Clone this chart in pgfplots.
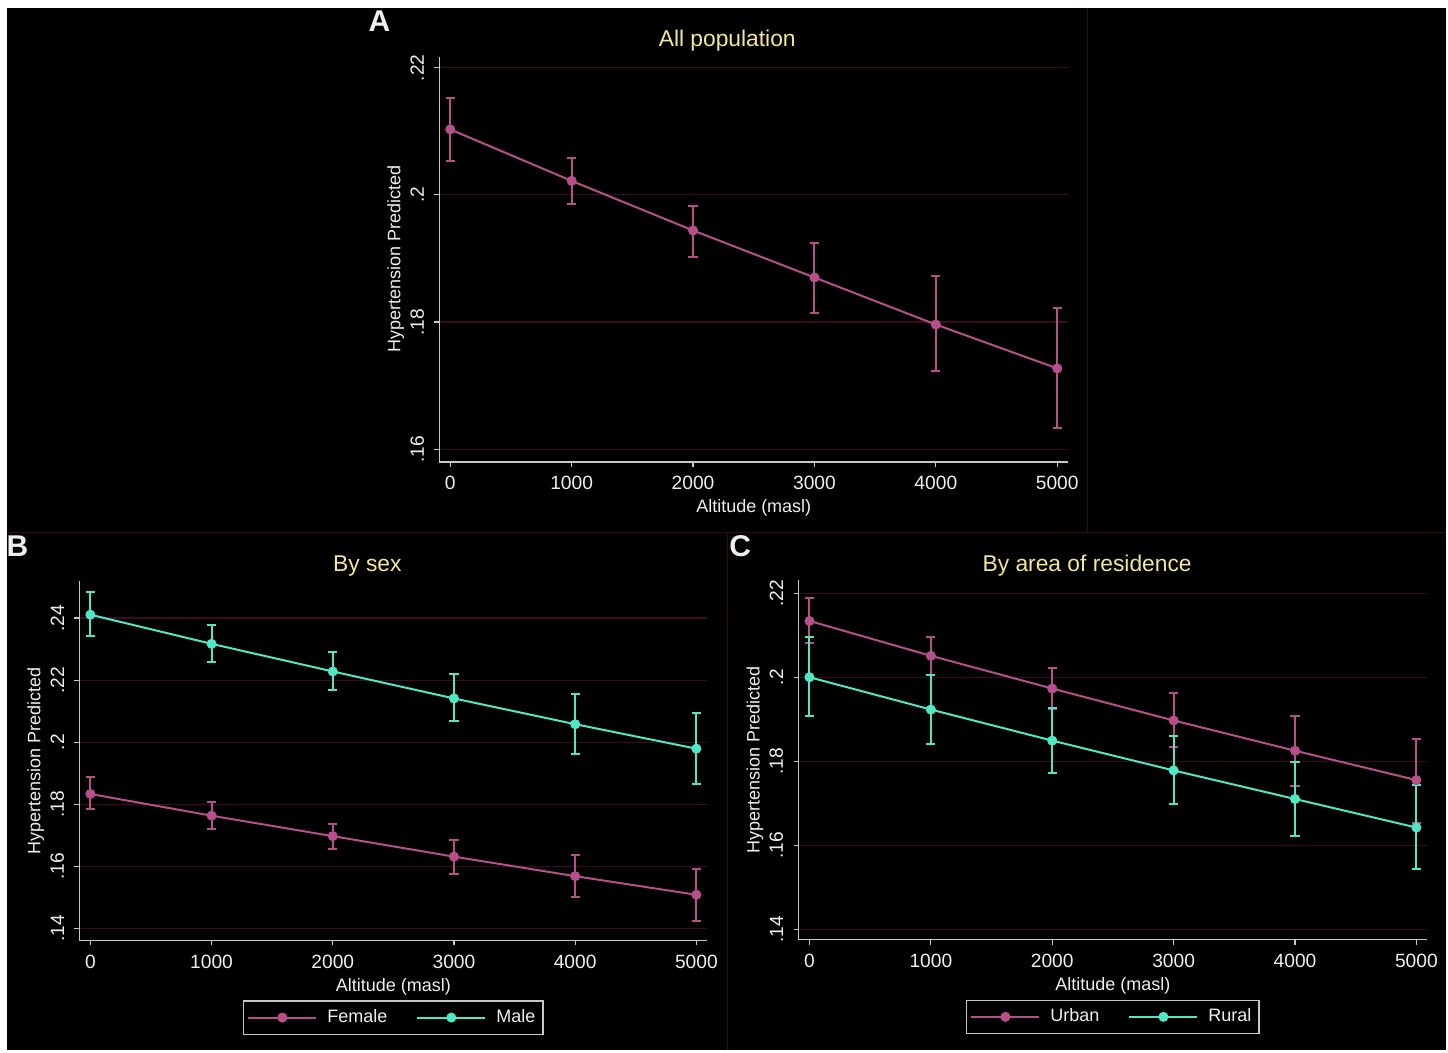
\documentclass[border=0pt]{standalone}
\usepackage{pgfplots}
\usepackage{pgfplotstable}
\pgfplotsset{compat=1.18}
\usepackage{fontspec}
\setmainfont{Liberation Sans}
\definecolor{pinkc}{RGB}{183,79,139}
\definecolor{mintc}{RGB}{80,232,196}
\definecolor{gridc}{RGB}{62,10,32}
\definecolor{sepc}{RGB}{55,8,28}
\definecolor{axc}{RGB}{200,200,200}
\definecolor{txtc}{RGB}{238,238,238}
\definecolor{ttlc}{RGB}{242,232,150}

\pgfplotstableread{
x y ep em
0 0.2103 0.0049 0.0049
1000 0.2022 0.0036 0.0037
2000 0.1944 0.0039 0.0041
3000 0.1870 0.0055 0.0056
4000 0.1796 0.0076 0.0073
5000 0.1727 0.0095 0.0093
}\tAll
\pgfplotstableread{
x y ep em
0 0.1833 0.0055 0.0049
1000 0.1763 0.0045 0.0043
2000 0.1697 0.0040 0.0040
3000 0.1631 0.0055 0.0055
4000 0.1568 0.0068 0.0068
5000 0.1508 0.0084 0.0085
}\tFemale
\pgfplotstableread{
x y ep em
0 0.2411 0.0072 0.0068
1000 0.2317 0.0061 0.0057
2000 0.2228 0.0062 0.0060
3000 0.2141 0.0078 0.0074
4000 0.2058 0.0096 0.0095
5000 0.1979 0.0115 0.0114
}\tMale
\pgfplotstableread{
x y ep em
0 0.2134 0.0055 0.0053
1000 0.2051 0.0045 0.0045
2000 0.1973 0.0048 0.0048
3000 0.1897 0.0065 0.0064
4000 0.1825 0.0082 0.0083
5000 0.1755 0.0099 0.0101
}\tUrban
\pgfplotstableread{
x y ep em
0 0.2000 0.0096 0.0093
1000 0.1923 0.0083 0.0081
2000 0.1849 0.0077 0.0077
3000 0.1778 0.0081 0.0079
4000 0.1710 0.0088 0.0087
5000 0.1642 0.0102 0.0098
}\tRural

\pgfplotsset{
  stata/.style={
    scale only axis,
    axis lines*=left,
    axis line style={axc, line width=0.7pt},
    tick align=outside,
    major tick length=2.5pt,
    tick style={axc, line width=0.6pt},
    ymajorgrids,
    major grid style={gridc, line width=0.6pt},
    xtick={0,1000,2000,3000,4000,5000},
    xmin=-90, xmax=5090,
    ticklabel style={font=\fontsize{9.6}{11}\selectfont, text=txtc},
    xticklabel style={anchor=north, inner sep=0pt},
    xticklabel shift=4.5pt,
    yticklabel style={rotate=90, anchor=south, inner sep=0pt},
    yticklabel shift=5pt,
    /pgf/number format/1000 sep={},
    /pgf/number format/assume math mode=true,
    xlabel={Altitude (masl)},
    ylabel={Hypertension Predicted},
    every axis x label/.style={at={(axis description cs:0.5,0)}, anchor=base, yshift=-25.5pt,
      font=\fontsize{9.0}{11}\selectfont, text=txtc},
    every axis y label/.style={at={(axis description cs:0,0.5)}, xshift=-19.5pt, rotate=90, anchor=base,
      font=\fontsize{9.0}{11}\selectfont, text=txtc},
    legend columns=2,
    legend image code/.code={\draw[mark repeat=2,mark phase=2,##1] plot coordinates {(0pt,0pt) (17pt,0pt) (34pt,0pt)};},
    legend style={at={(axis description cs:0.5,0)}, yshift=-30pt, anchor=north,
      draw=axc, line width=0.6pt, fill=black, text=txtc, font=\fontsize{9.0}{11}\selectfont,
      inner xsep=1.8pt, inner ysep=2.3pt,
      /tikz/every odd column/.append style={column sep=3pt},
      /tikz/every even column/.append style={column sep=12.5pt}},
  },
  ser/.style={draw=#1, line width=1pt, mark=*, mark size=2.3pt,
    mark options={fill=#1, draw=#1, line width=0.4pt},
    /pgfplots/error bars/y dir=both, /pgfplots/error bars/y explicit,
    /pgfplots/error bars/error bar style={draw=#1, line width=1pt},
    /pgfplots/error bars/error mark options={rotate=90, mark size=2.3pt, draw=#1, line width=1pt}},
}

\begin{document}
\begin{tikzpicture}[x=0.5pt, y=0.5pt]
  \fill[white] (0,0) rectangle (1448,1053);
  \fill[black] (7,3) rectangle (1446,1045);
  \draw[sepc, line width=0.6pt] (7,520) -- (1446,520);
  \draw[sepc, line width=0.6pt] (1087,520) -- (1087,1045);
  \draw[sepc, line width=0.6pt] (727,3) -- (727,520);

  % Panel A
  \begin{axis}[stata, at={(219.5pt,295.5pt)}, anchor=south west,
      width=314.5pt, height=202.5pt,
      ymin=0.158, ymax=0.2217,
      ytick={0.16,0.18,0.2,0.22}, yticklabels={.16,.18,.2,.22}]
    \addplot[ser=pinkc] table[x=x, y=y, y error plus=ep, y error minus=em]{\tAll};
  \end{axis}
  \node[text=txtc, font=\fontsize{15}{17}\selectfont\bfseries] at (379,1032) {A};
  \node[text=ttlc, font=\fontsize{11.4}{14}\selectfont] at (727,1012) {All population};

  % Panel B
  \begin{axis}[stata, at={(39.5pt,56.15pt)}, anchor=south west,
      width=314pt, height=179.5pt,
      ymin=0.1361, ymax=0.2518,
      ytick={0.14,0.16,0.18,0.2,0.22,0.24}, yticklabels={.14,.16,.18,.2,.22,.24}]
    \addplot[ser=pinkc] table[x=x, y=y, y error plus=ep, y error minus=em]{\tFemale};
    \addlegendentry{Female}
    \addplot[ser=mintc] table[x=x, y=y, y error plus=ep, y error minus=em]{\tMale};
    \addlegendentry{Male}
  \end{axis}
  \node[text=txtc, font=\fontsize{15}{17}\selectfont\bfseries] at (17,507) {B};
  \node[text=ttlc, font=\fontsize{11.4}{14}\selectfont] at (367,487) {By sex};

  % Panel C
  \begin{axis}[stata, at={(399.15pt,56.5pt)}, anchor=south west,
      width=314.5pt, height=180pt,
      ymin=0.1375, ymax=0.2232,
      ytick={0.14,0.16,0.18,0.2,0.22}, yticklabels={.14,.16,.18,.2,.22}]
    \addplot[ser=pinkc] table[x=x, y=y, y error plus=ep, y error minus=em]{\tUrban};
    \addlegendentry{Urban}
    \addplot[ser=mintc] table[x=x, y=y, y error plus=ep, y error minus=em]{\tRural};
    \addlegendentry{Rural}
  \end{axis}
  \node[text=txtc, font=\fontsize{15}{17}\selectfont\bfseries] at (740,507) {C};
  \node[text=ttlc, font=\fontsize{11.4}{14}\selectfont] at (1087,487) {By area of residence};
\end{tikzpicture}
\end{document}
